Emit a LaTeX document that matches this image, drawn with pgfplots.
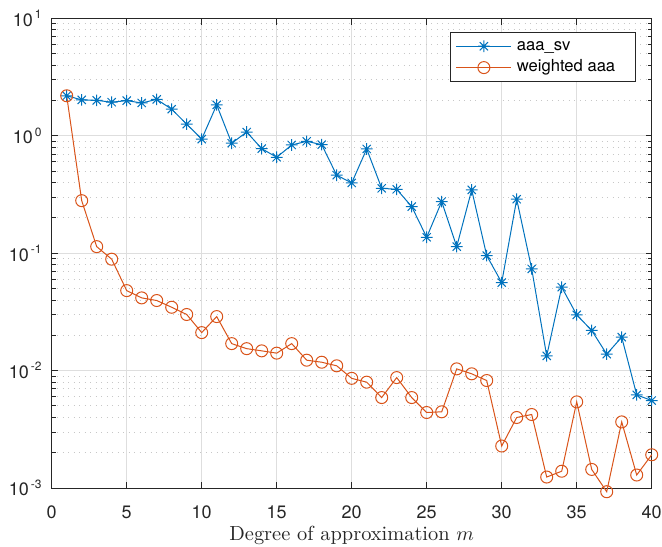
\documentclass[border=0pt]{standalone}
\usepackage{fontspec}
\setsansfont{TeX Gyre Heros}
\usepackage{pgfplots}
\pgfplotsset{compat=1.18}
\usetikzlibrary{calc}
\definecolor{mblue}{rgb}{0,0.447,0.741}
\definecolor{morange}{rgb}{0.85,0.325,0.098}
\definecolor{maxis}{rgb}{0.15,0.15,0.15}
\pgfdeclareplotmark{mstar}{%
 \pgfpathmoveto{\pgfqpoint{-\pgfplotmarksize}{0pt}}\pgfpathlineto{\pgfqpoint{\pgfplotmarksize}{0pt}}%
 \pgfpathmoveto{\pgfqpoint{0pt}{-\pgfplotmarksize}}\pgfpathlineto{\pgfqpoint{0pt}{\pgfplotmarksize}}%
 \pgfpathmoveto{\pgfqpoint{-0.707\pgfplotmarksize}{-0.707\pgfplotmarksize}}\pgfpathlineto{\pgfqpoint{0.707\pgfplotmarksize}{0.707\pgfplotmarksize}}%
 \pgfpathmoveto{\pgfqpoint{-0.707\pgfplotmarksize}{0.707\pgfplotmarksize}}\pgfpathlineto{\pgfqpoint{0.707\pgfplotmarksize}{-0.707\pgfplotmarksize}}%
 \pgfusepathqstroke}
\begin{document}
\begin{tikzpicture}
\begin{semilogyaxis}[
  scale only axis, width=300pt, height=234.7pt,
  xmin=0, xmax=40, ymin=1e-3, ymax=10,
  xtick={0,5,...,40},
  ytick={1e-3,1e-2,1e-1,1,10},
  yticklabels={{10\textsuperscript{\,-3}},{10\textsuperscript{\,-2}},{10\textsuperscript{\,-1}},{10\textsuperscript{\,0}},{10\textsuperscript{\,1}}},
  tick label style={font=\sffamily\fontsize{9}{11}\selectfont, text=maxis},
  xticklabel style={anchor=base, yshift=-15.1pt},
  yticklabel style={xshift=-1pt},
  /pgf/number format/assume math mode=true,
  axis line style={maxis, line width=0.5pt},
  tick style={maxis, line width=0.5pt},
  major tick length=3pt, minor tick length=2pt,
  grid=both,
  xminorgrids=false,
  major grid style={black!13, line width=0.5pt},
  minor grid style={black!22, dash pattern=on 0.5pt off 2.25pt, line width=0.5pt},
  xlabel={Degree of approximation $m$},
  xlabel style={font=\fontsize{10.2}{12}\selectfont, text=maxis, at={(axis description cs:0.5,0)}, anchor=base, yshift=-26.1pt},
  clip=false,
  legend style={at={(1,1)}, anchor=north east, xshift=-8pt, yshift=-6.85pt,
    font=\sffamily\fontsize{8.3}{10}\selectfont, draw=maxis, line width=0.5pt,
    legend cell align=left, inner xsep=2.5pt, inner ysep=2.7pt,
    nodes={inner sep=0pt, text height=6pt, text depth=2pt},
    row sep=2.7pt, column sep=2.5pt},
  legend image code/.code={\draw[mark repeat=2,mark phase=2] plot coordinates {(0pt,0pt) (13.75pt,0pt) (27.5pt,0pt)};},
]
\addplot[mblue, line width=0.5pt, mark=mstar, mark size=2.9pt] coordinates {
(1,2.20) (2,2.03) (3,2.01) (4,1.94) (5,2.00) (6,1.91) (7,2.05) (8,1.69) (9,1.26) (10,0.94)
(11,1.84) (12,0.867) (13,1.08) (14,0.78) (15,0.658) (16,0.838) (17,0.90) (18,0.843) (19,0.463) (20,0.398)
(21,0.775) (22,0.358) (23,0.351) (24,0.25) (25,0.137) (26,0.276) (27,0.114) (28,0.347) (29,0.0956) (30,0.0563)
(31,0.289) (32,0.0736) (33,0.01336) (34,0.0514) (35,0.0299) (36,0.0220) (37,0.01383) (38,0.0193) (39,0.00622) (40,0.00556)
};
\addlegendentry{aaa\_sv}
\addplot[morange, line width=0.5pt, mark=o, mark size=3pt] coordinates {
(1,2.20) (2,0.281) (3,0.114) (4,0.0891) (5,0.0481) (6,0.0417) (7,0.0396) (8,0.0347) (9,0.0301) (10,0.0211)
(11,0.0289) (12,0.0170) (13,0.0154) (14,0.01475) (15,0.0141) (16,0.0170) (17,0.01228) (18,0.0118) (19,0.0110) (20,0.0086)
(21,0.00798) (22,0.0059) (23,0.00873) (24,0.0059) (25,0.0044) (26,0.00446) (27,0.01036) (28,0.0094) (29,0.00824) (30,0.00228)
(31,0.00399) (32,0.00423) (33,0.00124) (34,0.00139) (35,0.00542) (36,0.00144) (37,0.00093) (38,0.00366) (39,0.00129) (40,0.00192)
};
\addlegendentry{weighted aaa\hspace*{7.5pt}}
\end{semilogyaxis}
\pgfresetboundingbox
\path[use as bounding box] ($(current axis.south west)+(-25.85pt,-29pt)$) rectangle ($(current axis.north east)+(5.15pt,9.3pt)$);
\end{tikzpicture}
\end{document}
